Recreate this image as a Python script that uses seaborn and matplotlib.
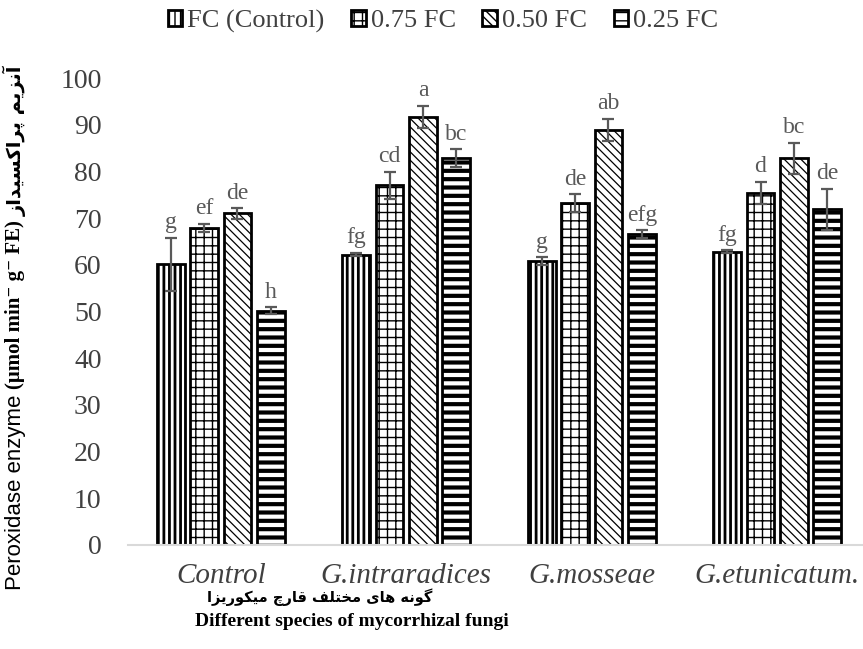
import numpy as np
import pandas as pd
import matplotlib
matplotlib.use("Agg")
import matplotlib.pyplot as plt
import seaborn as sns

# ---- data -------------------------------------------------------------
groups = ["Control", "G.intraradices", "G.mosseae", "G.etunicatum."]
levels = ["FC (Control)", "0.75 FC", "0.50 FC", "0.25 FC"]

fc100 = [60.1, 62.2, 60.8, 62.8]
fc100_err = [5.7, 0.3, 0.8, 0.3]
fc75 = [67.9, 77.0, 73.2, 75.4]
fc75_err = [0.8, 2.9, 1.9, 2.3]
fc50 = [71.0, 91.7, 88.9, 82.8]
fc50_err = [1.1, 2.3, 2.4, 3.3]
fc25 = [50.2, 82.8, 66.6, 71.9]
fc25_err = [0.7, 1.9, 0.8, 4.4]

letters_fc100 = ["g", "fg", "g", "fg"]
letters_fc75 = ["ef", "cd", "de", "d"]
letters_fc50 = ["de", "a", "ab", "bc"]
letters_fc25 = ["h", "bc", "efg", "de"]

values = [fc100, fc75, fc50, fc25]
errors = [fc100_err, fc75_err, fc50_err, fc25_err]
letters = [letters_fc100, letters_fc75, letters_fc50, letters_fc25]

ylabel_en = "Peroxidase enzyme"
ylabel_unit = "(\u03bcmol min\u207b g\u207b FE)"
ylabel_fa = "آنزیم پراکسیداز"
xlabel_fa = "گونه های مختلف قارچ میکوریزا"
xlabel_en = "Different species of mycorrhizal fungi"

# ---- Persian shaping (contextual forms, visual order) -------------------
FORMS = {
    'آ': ('\uFE81', '\uFE82', None, None),
    'ا': ('\uFE8D', '\uFE8E', None, None),
    'د': ('\uFEA9', '\uFEAA', None, None),
    'ر': ('\uFEAD', '\uFEAE', None, None),
    'ز': ('\uFEAF', '\uFEB0', None, None),
    'و': ('\uFEED', '\uFEEE', None, None),
    'پ': ('\uFB56', '\uFB57', '\uFB58', '\uFB59'),
    'ت': ('\uFE95', '\uFE96', '\uFE97', '\uFE98'),
    'چ': ('\uFB7A', '\uFB7B', '\uFB7C', '\uFB7D'),
    'خ': ('\uFEA5', '\uFEA6', '\uFEA7', '\uFEA8'),
    'س': ('\uFEB1', '\uFEB2', '\uFEB3', '\uFEB4'),
    'ف': ('\uFED1', '\uFED2', '\uFED3', '\uFED4'),
    'ق': ('\uFED5', '\uFED6', '\uFED7', '\uFED8'),
    'ک': ('\uFB8E', '\uFB8F', '\uFB90', '\uFB91'),
    'گ': ('\uFB92', '\uFB93', '\uFB94', '\uFB95'),
    'ل': ('\uFEDD', '\uFEDE', '\uFEDF', '\uFEE0'),
    'م': ('\uFEE1', '\uFEE2', '\uFEE3', '\uFEE4'),
    'ن': ('\uFEE5', '\uFEE6', '\uFEE7', '\uFEE8'),
    'ه': ('\uFEE9', '\uFEEA', '\uFEEB', '\uFEEC'),
    'ی': ('\uFBFC', '\uFBFD', '\uFBFE', '\uFBFF'),
}


def shape_rtl(text):
    out = []
    for i, ch in enumerate(text):
        if ch not in FORMS:
            out.append(ch)
            continue
        prev = text[i - 1] if i > 0 else ''
        nxt = text[i + 1] if i + 1 < len(text) else ''
        iso, fin, ini, med = FORMS[ch]
        join_prev = prev in FORMS and FORMS[prev][2] is not None
        join_next = ini is not None and nxt in FORMS
        if join_prev and join_next:
            out.append(med)
        elif join_prev:
            out.append(fin)
        elif join_next:
            out.append(ini)
        else:
            out.append(iso)
    return ''.join(reversed(out))


# ---- figure -------------------------------------------------------------
W, H = 863, 649
sns.set_theme(style="white")
plt.rcParams["font.family"] = ["Liberation Serif", "DejaVu Serif"]
TXT = "#404040"

fig = plt.figure(figsize=(W / 100, H / 100), dpi=100)
ax = fig.add_axes([128 / W, 1 - 545 / H, (W - 128) / W, (545 - 78) / H])

df = pd.DataFrame({
    "group": np.repeat(groups, len(levels)),
    "level": levels * len(groups),
    "value": [values[j][i] for i in range(len(groups)) for j in range(len(levels))],
})

sns.barplot(data=df, x="group", y="value", hue="level", order=groups,
            hue_order=levels, palette={lv: "white" for lv in levels},
            saturation=1, width=0.72, gap=0.17, errorbar=None,
            edgecolor="black", linewidth=2.0, legend=False, ax=ax)
bar_sets = list(ax.containers)

hatches = ["|||", "++", "\\\\\\\\", "--"]
hatch_lw = [2.0, 1.0, 0.9, 3.0]
for cont, hatch, hlw in zip(bar_sets, hatches, hatch_lw):
    for p in cont.patches:
        p.set_hatch(hatch)
        if hasattr(p, "set_hatch_linewidth"):
            p.set_hatch_linewidth(hlw)

# error bars and significance letters
for cont, vals, errs, labs in zip(bar_sets, values, errors, letters):
    xs = [p.get_x() + p.get_width() / 2 for p in cont.patches]
    ax.errorbar(xs, vals, yerr=errs, fmt="none", ecolor="#595959",
                elinewidth=1.6, capsize=4, capthick=1.6, zorder=5)
    for x, v, e, lab in zip(xs, vals, errs, labs):
        ax.annotate(lab, xy=(x, v + e), xytext=(0, 7),
                    textcoords="offset points", ha="center", va="baseline",
                    color="#595959", fontsize=17)

ax.set_xlim(-0.5, -0.5 + (W - 128) / 185.5)
ax.set_ylim(0, 100)
ax.set_yticks(range(0, 101, 10))
ax.set_xlabel("")
ax.set_ylabel("")
ax.tick_params(axis="y", length=0, pad=19, labelsize=20, labelcolor=TXT)
ax.tick_params(axis="x", length=0, pad=13, labelsize=21, labelcolor=TXT)
for lab in ax.get_xticklabels():
    lab.set_fontstyle("italic")
for s in ["left", "top", "right"]:
    ax.spines[s].set_visible(False)
ax.spines["bottom"].set_color("#d9d9d9")
ax.spines["bottom"].set_linewidth(1.5)

# legend
handles = [cont.patches[0] for cont in bar_sets]
leg = fig.legend(handles, levels, loc="center", bbox_to_anchor=(443 / W, 1 - 21 / H),
                 ncol=4, frameon=False, fontsize=19, handlelength=0.55,
                 handleheight=0.55, handletextpad=0.2, columnspacing=1.0)
for t in leg.get_texts():
    t.set_color(TXT)

# axis titles
fig.text(320 / W, 1 - 597 / H, shape_rtl(xlabel_fa), ha="center", va="center",
         family=["DejaVu Sans"], fontweight="bold", fontsize=10.5, color="black")
fig.text(352 / W, 1 - 621 / H, xlabel_en, ha="center", va="center",
         fontweight="bold", fontsize=14, color="black")

fig.canvas.draw()
renderer = fig.canvas.get_renderer()
x_lab = 15 / W
t1 = fig.text(x_lab, 1 - 590 / H, ylabel_en, rotation=90, ha="center",
              va="bottom", family=["Liberation Sans", "DejaVu Sans"],
              fontsize=16, color="black")
y_top = t1.get_window_extent(renderer).y1 + 6
t2 = fig.text(x_lab, y_top / H, ylabel_unit, rotation=90, ha="center",
              va="bottom", family=["Liberation Serif", "DejaVu Serif"],
              fontweight="bold", fontsize=15, color="black")
y_top = t2.get_window_extent(renderer).y1 + 4
fig.text(x_lab, y_top / H, shape_rtl(ylabel_fa), rotation=90, ha="center",
         va="bottom", family=["DejaVu Sans"], fontweight="bold", fontsize=14,
         color="black")

fig.savefig("out.png", dpi=100)
